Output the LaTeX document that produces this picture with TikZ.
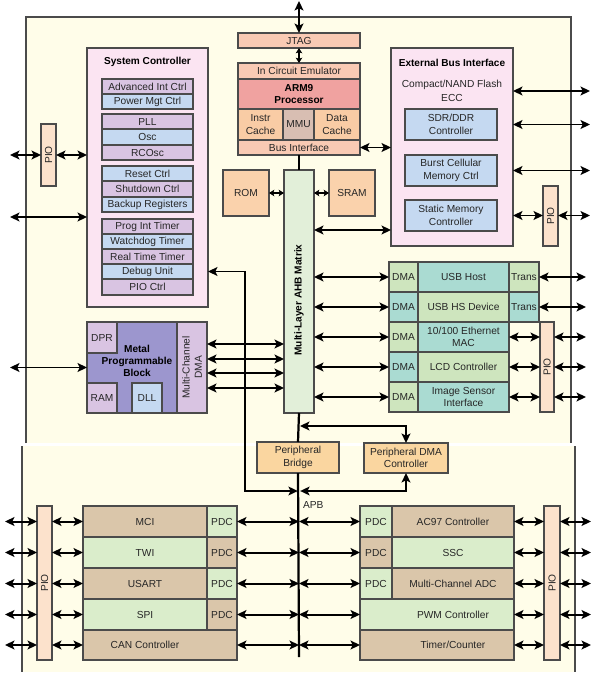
\documentclass[tikz,border=0pt]{standalone}
\usepackage{fontspec}
\setmainfont{Liberation Sans}
\usetikzlibrary{arrows.meta}
\definecolor{cream}{RGB}{255,253,233}
\definecolor{edge}{RGB}{75,75,75}
\definecolor{pinkbg}{RGB}{251,228,242}
\definecolor{lav}{RGB}{217,196,226}
\definecolor{lblue}{RGB}{197,217,241}
\definecolor{salmon}{RGB}{249,202,180}
\definecolor{armred}{RGB}{240,162,160}
\definecolor{cache}{RGB}{249,204,165}
\definecolor{mmuc}{RGB}{216,190,178}
\definecolor{peach}{RGB}{250,210,172}
\definecolor{pioc}{RGB}{252,226,204}
\definecolor{mpbv}{RGB}{156,150,206}
\definecolor{ahbg}{RGB}{226,239,217}
\definecolor{dmag}{RGB}{206,229,190}
\definecolor{teal}{RGB}{170,219,210}
\definecolor{tanc}{RGB}{218,198,170}
\definecolor{lgreen}{RGB}{218,237,203}
\definecolor{bridge}{RGB}{250,214,160}
\tikzset{every node/.style={font=\fontsize{8.7}{10.5}\selectfont, inner sep=0pt, outer sep=0pt, text=black!85},
  blk/.style 2 args={draw=edge, line width=0.9pt, minimum width=#1*0.03cm, minimum height=#2*0.03cm, align=center},
  hd/.style={font=\fontsize{8.6}{10.5}\selectfont\bfseries, text=black},
  dbl/.style={{Stealth[length=8pt,width=7.5pt,inset=1.8pt]}-{Stealth[length=8pt,width=7.5pt,inset=1.8pt]}, line width=1.7pt},
  sdbl/.style={{Stealth[length=4.5pt,width=5.5pt,inset=1pt]}-{Stealth[length=4.5pt,width=5.5pt,inset=1pt]}, line width=1.4pt},
  bus/.style={line width=1.9pt}}

\begin{document}
\begin{tikzpicture}[x=0.03cm,y=-0.03cm]
  \useasboundingbox (0,0) rectangle (596,678);
  \fill[cream] (26,17) rectangle (571,443);
  \fill[cream] (22,446) rectangle (575,672);
  \draw[edge,line width=1pt] (26,443) -- (26,17) -- (571,17) -- (571,443);
  \draw[edge,line width=1pt] (22,446) -- (22,672) (575,446) -- (575,672);

  \node[blk={122}{15},fill=salmon] (jtag) at (299,40.5) {JTAG};
  \node[blk={122}{16},fill=salmon] (ice) at (299,71) {In Circuit Emulator};
  \node[blk={122}{30},fill=armred,hd] (arm) at (299,94) {ARM9\\Processor};
  \node[blk={45}{31},fill=cache] (icache) at (260.5,124.5) {Instr\\Cache};
  \node[blk={31}{31},fill=mmuc] (mmu) at (298.5,124.5) {MMU};
  \node[blk={46}{31},fill=cache] (dcache) at (337,124.5) {Data\\Cache};
  \node[blk={122}{15},fill=salmon] (busif) at (299,147.5) {Bus Interface};

  \node[blk={46}{46},fill=peach] (rom) at (246,193) {ROM};
  \node[blk={46}{46},fill=peach] (sram) at (352,193) {SRAM};
  \node[blk={30}{243},fill=ahbg] (ahb) at (299,291.5) {};
  \node[hd,rotate=90] (ahbt) at (299,300) {Multi-Layer AHB Matrix};

  \node[blk={122}{198},fill=pinkbg] (ebi) at (452,147) {};
  \node[hd] (ebit) at (452,63) {External Bus Interface};
  \node[align=center] (cf) at (452,91) {Compact/NAND Flash\\[1.5pt]ECC};
  \node[blk={92}{31},fill=lblue] (sdr) at (451,124.5) {SDR/DDR\\Controller};
  \node[blk={92}{31},fill=lblue] (bcm) at (451,170.5) {Burst Cellular\\Memory Ctrl};
  \node[blk={92}{31},fill=lblue] (smc) at (451,215.5) {Static Memory\\Controller};
  \node[blk={15}{60},fill=pioc,label={[rotate=90]center:PIO}] (pioE) at (550.5,216) {};

  \node[blk={121}{259},fill=pinkbg] (sysc) at (147.5,177.5) {};
  \node[hd] (syst) at (147.5,62) {System Controller};
  \foreach \cy/\h/\c/\t/\n in {86.5/15/lav/Advanced Int Ctrl/adv, 101.5/15/lblue/Power Mgt Ctrl/pmc,
      121.5/15/lav/PLL/pll, 137/16/lblue/Osc/osc, 152.5/15/lav/RCOsc/rcosc,
      173.5/15/lblue/Reset Ctrl/rst, 189/16/lav/Shutdown Ctrl/shd, 204.5/15/lblue/Backup Registers/bkp,
      226.5/15/lav/Prog Int Timer/pit, 241.5/15/lblue/Watchdog Timer/wdt, 256.5/15/lav/Real Time Timer/rtt,
      271.5/15/lblue/Debug Unit/dbg, 287/16/lav/PIO Ctrl/piocl}
    \node[blk={91}{\h},fill=\c] (\n) at (147.5,\cy) {\t};
  \node[blk={15}{62},fill=pioc,label={[rotate=90]center:PIO}] (pioL) at (48.5,155) {};

  \node[blk={120}{91},fill=mpbv] (mpb) at (147,367.5) {};
  \node[blk={30}{31},fill=lav] (dpr) at (102,337.5) {DPR};
  \node[blk={30}{30},fill=lav] (ram) at (102,398) {RAM};
  \node[blk={30}{30},fill=lblue] (dll) at (147,398) {DLL};
  \node[blk={30}{91},fill=lav] (mcdma) at (192,367.5) {};
  \node[rotate=90,align=center] (mcdmat) at (192,367.5) {Multi-Channel\\DMA};
  \node[hd,align=center] (mpbt) at (137,361) {Metal\\Programmable\\Block};

  \node[blk={82}{31},fill=bridge] (pbr) at (298,457.5) {Peripheral\\Bridge};
  \node[blk={84}{30},fill=bridge] (pdma) at (406,458) {Peripheral DMA\\Controller};

  \foreach \cy/\cd/\cm/\t/\n/\k in {277/dmag/teal/{USB Host}/usbh/1, 307/teal/dmag/{USB HS Device}/usbd/2,
      337/dmag/teal/{10/100 Ethernet\\MAC}/eth/3, 367/teal/dmag/{LCD Controller}/lcd/4,
      397/dmag/teal/{Image Sensor\\Interface}/isi/5} {
    \node[blk={29}{30},fill=\cd] (dma\k) at (403.5,\cy) {DMA};
    \node[blk={91}{30},fill=\cm] (\n) at (463.5,\cy) {\t};
  }
  \node[blk={30}{30},fill=dmag] (tr1) at (524,277) {Trans};
  \node[blk={30}{30},fill=teal] (tr2) at (524,307) {Trans};
  \node[blk={14}{90},fill=pioc,label={[rotate=90]center:PIO}] (pioR) at (547,367) {};

  \foreach \cy/\h/\cm/\cp/\t/\n/\k in {521.5/31/tanc/lgreen/MCI/mci/1, 552.5/31/lgreen/tanc/TWI/twi/2,
      583.5/31/tanc/lgreen/USART/usart/3, 614.5/31/lgreen/tanc/SPI/spi/4} {
    \node[blk={124}{\h},fill=\cm] (\n) at (145,\cy) {\t};
    \node[blk={30}{\h},fill=\cp] (pdc\k) at (222,\cy) {PDC};
  }
  \node[blk={154}{30},fill=tanc,label={[xshift=-0.45cm]center:CAN Controller}] (can) at (160,645) {};
  \node[blk={15}{154},fill=pioc,label={[rotate=90]center:PIO}] (pioB) at (44.5,583) {};

  \foreach \cy/\h/\cm/\cp/\t/\n/\k in {521.5/31/tanc/lgreen/{AC97 Controller}/ac97/5, 552.5/31/lgreen/tanc/SSC/ssc/6,
      583.5/31/tanc/lgreen/{Multi-Channel ADC}/adc/7} {
    \node[blk={32}{\h},fill=\cp] (pdc\k) at (376,\cy) {PDC};
    \node[blk={122}{\h},fill=\cm] (\n) at (453,\cy) {\t};
  }
  \node[blk={154}{31},fill=lgreen,label={[xshift=0.48cm]center:PWM Controller}] (pwm) at (437,614.5) {};
  \node[blk={154}{30},fill=tanc,label={[xshift=0.48cm]center:Timer/Counter}] (tc) at (437,645) {};
  \node[blk={16}{154},fill=pioc,label={[rotate=90]center:PIO}] (pioBR) at (552,583) {};
  \node[anchor=west] (apb) at (303,505) {APB};

  \coordinate (tck) at (299,1);
  \coordinate (apbend) at (299,657);
  \coordinate (ext) at (10,217);
  \coordinate (jd) at (245,491);
  \coordinate (jp) at (300,426);
  \draw[bus] (busif.south) -- (ahb.north);
  \draw[bus] (ahb.south) -- (pbr.north);
  \draw[bus] (pbr.south) -- (apbend);
  \draw[dbl] (tck) -- (jtag.north);
  \draw[sdbl] (jtag.south) -- (ice.north);
  \draw[dbl] (busif.east) -- (ebi.west |- busif);
  \draw[sdbl] (rom.east) -- (ahb.west |- rom);
  \draw[sdbl] (sram.west) -- (ahb.east |- sram);
  \draw[dbl] (ahb.east |- 0,230) -- (ebi.west |- 0,230);
  \foreach \n in {cf,sdr,bcm} \draw[dbl] (ebi.east |- \n) -- ++(77,0);
  \draw[dbl] (ebi.east |- smc) -- (pioE.west |- smc);
  \draw[dbl] (pioE.east |- smc) -- ++(32,0);

  \draw[dbl] (pioL.west) -- ++(-31,0);
  \draw[dbl] (pioL.east) -- (sysc.west |- pioL);
  \draw[dbl] (ext) -- (sysc.west |- ext);
  \draw[dbl] (mpb.west) -- ++(-77,0);
  \foreach \y in {344,359,373,388} \draw[dbl] (mcdma.east |- 0,\y) -- (ahb.west |- 0,\y);
  \draw[dbl] (sysc.east |- dbg) -| (jd) -- ([xshift=-1pt]ahb.south |- jd);
  \draw[dbl] (jp) -| (pdma.north);
  \draw[dbl] (pdma.south) |- ([xshift=1pt]ahb.south |- jd);

  \foreach \k in {1,...,5} \draw[dbl] (ahb.east |- dma\k) -- (dma\k.west);
  \foreach \n in {tr1,tr2} \draw[dbl] (\n.east) -- ++(47,0);
  \foreach \n in {eth,lcd,isi} {
    \draw[dbl] (\n.east) -- (pioR.west |- \n);
    \draw[dbl] (pioR.east |- \n) -- ++(32,0);
  }

  \foreach \n in {mci,twi,usart,spi,can} {
    \draw[dbl] (pioB.west |- \n) -- ++(-32,0);
    \draw[dbl] (pioB.east |- \n) -- (\n.west);
  }
  \foreach \n in {pdc1,pdc2,pdc3,pdc4,can} \draw[dbl] (\n.east) -- (ahb.south |- \n);
  \foreach \n in {pdc5,pdc6,pdc7,pwm,tc} \draw[dbl] (ahb.south |- \n) -- (\n.west);
  \foreach \n in {ac97,ssc,adc,pwm,tc} {
    \draw[dbl] (\n.east) -- (pioBR.west |- \n);
    \draw[dbl] (pioBR.east |- \n) -- ++(31,0);
  }
\end{tikzpicture}
\end{document}
